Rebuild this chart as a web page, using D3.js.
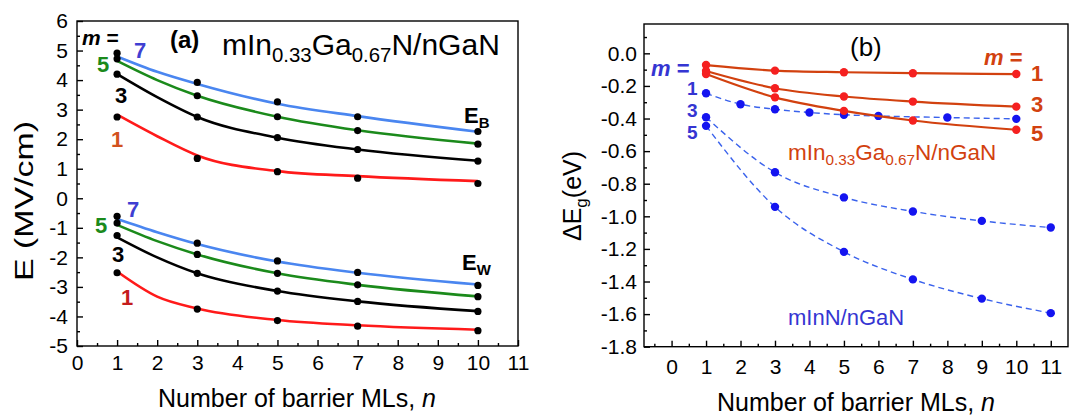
<!DOCTYPE html>
<html>
<head>
<meta charset="utf-8">
<script src="https://cdn.jsdelivr.net/npm/d3@7"></script>
<style>
  body { margin: 0; background: #fff; }
  svg { font-family: "Liberation Sans", Arial, sans-serif; }
</style>
</head>
<body>
<div class="chart"></div>
<script>
// ---- panel (a) data: field E (MV/cm) vs barrier MLs n
const nA = [1, 3, 5, 7, 10];
const nFit = [1, 2, 3, 5, 7, 10];
const ebDots1 = [2.75, 1.35, 0.9, 0.68, 0.5];
const ebDots3 = [4.2, 2.75, 2.05, 1.65, 1.26];
const ebDots5 = [4.72, 3.47, 2.76, 2.29, 1.83];
const ebDots7 = [4.91, 3.92, 3.26, 2.76, 2.26];
const ebFit1 = [2.83, 2.1, 1.45, 0.92, 0.75, 0.58];
const ebFit3 = [4.2, 3.42, 2.75, 2.05, 1.65, 1.27];
const ebFit5 = [4.65, 4.0, 3.47, 2.76, 2.3, 1.85];
const ebFit7 = [4.8, 4.28, 3.87, 3.2, 2.78, 2.25];
const ewDots1 = [-2.52, -3.75, -4.14, -4.33, -4.48];
const ewDots3 = [-1.26, -2.54, -3.14, -3.49, -3.83];
const ewDots5 = [-0.84, -1.9, -2.54, -2.93, -3.33];
const ewDots7 = [-0.61, -1.52, -2.12, -2.51, -2.95];
const ewFit1 = [-2.48, -3.33, -3.73, -4.12, -4.3, -4.45];
const ewFit3 = [-1.32, -2.0, -2.54, -3.14, -3.49, -3.82];
const ewFit5 = [-0.9, -1.45, -1.9, -2.54, -2.93, -3.32];
const ewFit7 = [-0.7, -1.15, -1.55, -2.14, -2.52, -2.92];

// ---- panel (b) data: band gap change (eV)
const nIngan = [1, 3, 5, 7, 10];
const ingan1 = [-0.072, -0.106, -0.116, -0.122, -0.127];
const ingan3 = [-0.108, -0.214, -0.265, -0.296, -0.327];
const ingan5 = [-0.127, -0.27, -0.353, -0.412, -0.469];
const nInn1 = [1, 2, 3, 4, 5, 6, 8, 10];
const inn1 = [-0.245, -0.312, -0.343, -0.363, -0.377, -0.384, -0.394, -0.402];
const nInn = [1, 3, 5, 7, 9, 11];
const inn3 = [-0.392, -0.73, -0.884, -0.97, -1.028, -1.069];
const inn5 = [-0.445, -0.942, -1.218, -1.387, -1.505, -1.594];

const width = 1078, height = 417;
const svg = d3.select(".chart").append("svg")
  .attr("width", width).attr("height", height);

const zip = (xs, ys) => xs.map((x, i) => [x, ys[i]]);

// draws frame, inward ticks (major + minor) and labels
function frame(x, y, xMajor, xMinor, yMajor, yMinor, xfmt, yfmt, xPad, yPad) {
  const [x0, x1] = x.range(), [y0, y1] = y.range();
  const g = svg.append("g");
  g.append("rect").attr("x", x0).attr("y", y1)
    .attr("width", x1 - x0).attr("height", y0 - y1)
    .attr("fill", "none").attr("stroke", "#000").attr("stroke-width", 1.4);

  const ax = (axis, tr) => {
    const a = g.append("g").attr("transform", tr).call(axis);
    a.select(".domain").remove();
    a.selectAll("line").attr("stroke-width", 1.4);
    a.selectAll("text").attr("font-size", 21).attr("fill", "#000")
      .attr("font-family", "Liberation Sans, Arial, sans-serif");
    return a;
  };
  ax(d3.axisBottom(x).tickValues(xMajor).tickSizeInner(-6).tickSizeOuter(0)
    .tickPadding(xPad).tickFormat(xfmt), `translate(0,${y0})`);
  ax(d3.axisBottom(x).tickValues(xMinor).tickSizeInner(-3).tickSizeOuter(0)
    .tickFormat(""), `translate(0,${y0})`);
  ax(d3.axisLeft(y).tickValues(yMajor).tickSizeInner(-6).tickSizeOuter(0)
    .tickPadding(yPad).tickFormat(yfmt), `translate(${x0},0)`);
  ax(d3.axisLeft(y).tickValues(yMinor).tickSizeInner(-3).tickSizeOuter(0)
    .tickFormat(""), `translate(${x0},0)`);
}

function label(x, y, parts, opts) {
  const t = svg.append("text").attr("x", x).attr("y", y)
    .attr("font-size", opts.size).attr("fill", opts.color || "#000")
    .attr("font-weight", opts.bold ? "bold" : "normal")
    .attr("text-anchor", opts.anchor || "start");
  parts.forEach(p => {
    const s = t.append("tspan").text(p.t);
    if (p.it) s.attr("font-style", "italic");
    if (p.sub) s.attr("font-size", opts.size * 0.68).attr("dy", opts.size * 0.22);
    if (p.up) s.attr("dy", -opts.size * 0.22);
  });
  return t;
}

// ================= panel (a) =================
const xA = d3.scaleLinear().domain([0, 11]).range([77, 518]);
const yA = d3.scaleLinear().domain([-5, 6]).range([346, 21]);
frame(xA, yA, d3.range(0, 12), d3.range(0.5, 11, 1),
  d3.range(-5, 7), d3.range(-4.5, 6, 1), d => String(d), d => String(d), 9, 9);

const lineA = d3.line().x(d => xA(d[0])).y(d => yA(d[1])).curve(d3.curveMonotoneX);
const colA = ["#ff1a1a", "#000000", "#1b8a1b", "#4a86f0"];
[ebFit1, ebFit3, ebFit5, ebFit7].forEach((f, i) =>
  svg.append("path").datum(zip(nFit, f)).attr("d", lineA)
    .attr("fill", "none").attr("stroke", colA[i]).attr("stroke-width", 2.6));
[ewFit1, ewFit3, ewFit5, ewFit7].forEach((f, i) =>
  svg.append("path").datum(zip(nFit, f)).attr("d", lineA)
    .attr("fill", "none").attr("stroke", colA[i]).attr("stroke-width", 2.6));
[ebDots1, ebDots3, ebDots5, ebDots7, ewDots1, ewDots3, ewDots5, ewDots7].forEach(s =>
  svg.append("g").selectAll("circle").data(zip(nA, s)).join("circle")
    .attr("cx", d => xA(d[0])).attr("cy", d => yA(d[1])).attr("r", 3.6).attr("fill", "#000"));

label(82, 45, [{ t: "m", it: true }, { t: " =" }], { size: 21, bold: true });
label(170, 48, [{ t: "(a)" }], { size: 24, bold: true });
label(222, 55, [{ t: "mIn" }, { t: "0.33", sub: true }, { t: "Ga", up: true },
  { t: "0.67", sub: true }, { t: "N/nGaN", up: true }], { size: 30 });
label(134, 58, [{ t: "7" }], { size: 22, bold: true, color: "#3f3fd2" });
label(97, 72, [{ t: "5" }], { size: 22, bold: true, color: "#1b8a1b" });
label(115, 103, [{ t: "3" }], { size: 22, bold: true });
label(111, 147, [{ t: "1" }], { size: 22, bold: true, color: "#d2521e" });
label(464, 123, [{ t: "E" }, { t: "B", sub: true }], { size: 22, bold: true });
label(127, 217, [{ t: "7" }], { size: 22, bold: true, color: "#3f3fd2" });
label(95, 233, [{ t: "5" }], { size: 22, bold: true, color: "#1b8a1b" });
label(112, 262, [{ t: "3" }], { size: 22, bold: true });
label(121, 305, [{ t: "1" }], { size: 22, bold: true, color: "#c41c1c" });
label(462, 270, [{ t: "E" }, { t: "W", sub: true }], { size: 22, bold: true });

label(297, 407, [{ t: "Number of barrier MLs, " }, { t: "n", it: true }],
  { size: 25, anchor: "middle" });
svg.append("text").attr("transform", "translate(33,201) rotate(-90)")
  .attr("text-anchor", "middle").attr("font-size", 25)
  .attr("textLength", 160).attr("lengthAdjust", "spacingAndGlyphs")
  .text("E (MV/cm)");

// ================= panel (b) =================
const xB = d3.scaleLinear().domain([-0.8, 11.5]).range([644, 1068]);
const yB = d3.scaleLinear().domain([-1.8, 0.18]).range([346.7, 24]);
frame(xB, yB, d3.range(0, 12), d3.range(-0.5, 11.5, 1),
  d3.range(-1.8, 0.01, 0.2).map(v => +v.toFixed(1)),
  d3.range(-1.7, 0.15, 0.2).map(v => +v.toFixed(1)),
  d => String(d), d => d.toFixed(1), 12, 7);

const lineB = d3.line().x(d => xB(d[0])).y(d => yB(d[1])).curve(d3.curveMonotoneX);
[[nInn1, inn1], [nInn, inn3], [nInn, inn5]].forEach(([xs, ys]) => {
  svg.append("path").datum(zip(xs, ys)).attr("d", lineB)
    .attr("fill", "none").attr("stroke", "#3a62ec").attr("stroke-width", 1.4)
    .attr("stroke-dasharray", "6,4");
  svg.append("g").selectAll("circle").data(zip(xs, ys)).join("circle")
    .attr("cx", d => xB(d[0])).attr("cy", d => yB(d[1])).attr("r", 4.2).attr("fill", "#1414f0");
});
[ingan1, ingan3, ingan5].forEach(ys => {
  svg.append("path").datum(zip(nIngan, ys)).attr("d", lineB)
    .attr("fill", "none").attr("stroke", "#d2410f").attr("stroke-width", 2.2);
  svg.append("g").selectAll("circle").data(zip(nIngan, ys)).join("circle")
    .attr("cx", d => xB(d[0])).attr("cy", d => yB(d[1])).attr("r", 4.2).attr("fill", "#f52020");
});

label(850, 56, [{ t: "(b)" }], { size: 26 });
const orange = "#d2410f", blue = "#3535d2";
label(984, 65, [{ t: "m", it: true }, { t: " =" }], { size: 22, bold: true, color: orange });
label(1031, 81, [{ t: "1" }], { size: 22, bold: true, color: orange });
label(1031, 112, [{ t: "3" }], { size: 22, bold: true, color: orange });
label(1031, 141, [{ t: "5" }], { size: 22, bold: true, color: orange });
label(651, 76, [{ t: "m", it: true }, { t: " =" }], { size: 22, bold: true, color: blue });
label(687, 95, [{ t: "1" }], { size: 19, bold: true, color: blue });
label(687, 117, [{ t: "3" }], { size: 19, bold: true, color: blue });
label(687, 139, [{ t: "5" }], { size: 19, bold: true, color: blue });
label(788, 160, [{ t: "mIn" }, { t: "0.33", sub: true }, { t: "Ga", up: true },
  { t: "0.67", sub: true }, { t: "N/nGaN", up: true }], { size: 22.5, color: orange });
label(788, 325, [{ t: "mInN/nGaN" }], { size: 22, color: blue });

label(856, 411, [{ t: "Number of barrier MLs, " }, { t: "n", it: true }],
  { size: 25, anchor: "middle" });
const yt = svg.append("text").attr("transform", "translate(581,196) rotate(-90)")
  .attr("text-anchor", "middle").attr("font-size", 25);
yt.append("tspan").text("\u0394E");
yt.append("tspan").text("g").attr("font-size", 17).attr("dy", 6);
yt.append("tspan").text("(eV)").attr("dy", -6);
</script>
</body>
</html>
